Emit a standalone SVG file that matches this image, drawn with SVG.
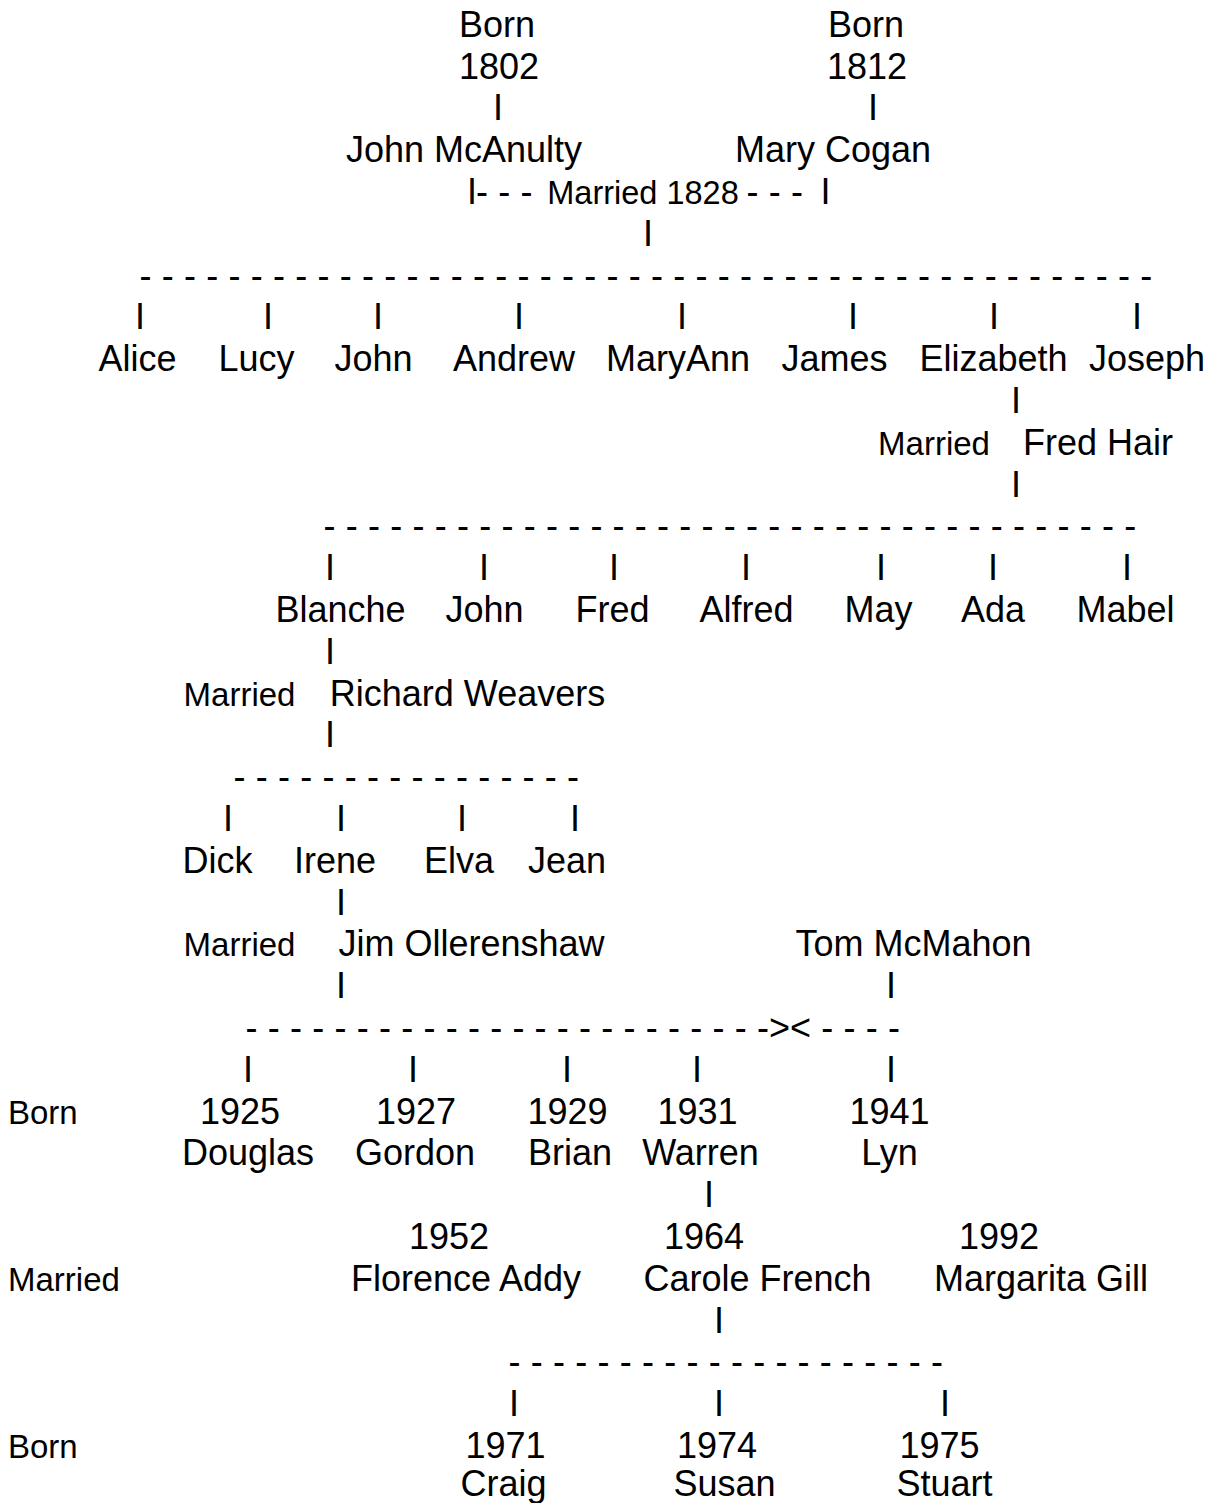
<svg xmlns="http://www.w3.org/2000/svg" width="1212" height="1503" viewBox="0 0 1212 1503">
<style>
text{font-family:"Liberation Sans",Arial,Helvetica,sans-serif;fill:#000;}
.b{font-size:36px;text-anchor:middle;}
.s{font-size:33px;}
.sm{font-size:33px;text-anchor:middle;}
.c{font-size:36px;text-anchor:middle;}
.d{font-size:36px;word-spacing:0.25px;}
</style>
<rect width="1212" height="1503" fill="#fff"/>
<g id="connectors">
<text class="c" x="498" y="120.3">I</text>
<text class="c" x="873" y="120.3">I</text>
<text class="c" x="472" y="203.9">I</text>
<text class="d" x="476" y="203.9">- - -</text>
<text class="d" x="746.5" y="203.9">- - -</text>
<text class="c" x="825.5" y="203.9">I</text>
<text class="c" x="648" y="245.7">I</text>
<text class="d" x="139.5" y="287.5">- - - - - - - - - - - - - - - - - - - - - - - - - - - - - - - - - - - - - - - - - - - - - -</text>
<text class="c" x="140" y="329.3">I</text>
<text class="c" x="268" y="329.3">I</text>
<text class="c" x="378" y="329.3">I</text>
<text class="c" x="519" y="329.3">I</text>
<text class="c" x="682" y="329.3">I</text>
<text class="c" x="853" y="329.3">I</text>
<text class="c" x="994" y="329.3">I</text>
<text class="c" x="1137" y="329.3">I</text>
<text class="c" x="1016" y="412.9">I</text>
<text class="c" x="1016" y="496.5">I</text>
<text class="d" x="323.5" y="538.3">- - - - - - - - - - - - - - - - - - - - - - - - - - - - - - - - - - - - -</text>
<text class="c" x="330" y="580.1">I</text>
<text class="c" x="484" y="580.1">I</text>
<text class="c" x="614" y="580.1">I</text>
<text class="c" x="746" y="580.1">I</text>
<text class="c" x="881" y="580.1">I</text>
<text class="c" x="993" y="580.1">I</text>
<text class="c" x="1127" y="580.1">I</text>
<text class="c" x="330" y="663.7">I</text>
<text class="c" x="330" y="747.3">I</text>
<text class="d" x="233.5" y="789.1">- - - - - - - - - - - - - - - -</text>
<text class="c" x="228" y="830.9">I</text>
<text class="c" x="341" y="830.9">I</text>
<text class="c" x="462" y="830.9">I</text>
<text class="c" x="575" y="830.9">I</text>
<text class="c" x="341" y="914.5">I</text>
<text class="c" x="341" y="998.1">I</text>
<text class="c" x="891" y="998.1">I</text>
<text class="d" x="245.5" y="1039.9">- - - - - - - - - - - - - - - - - - - - - - - -&gt;&lt; - - - -</text>
<text class="c" x="248" y="1081.7">I</text>
<text class="c" x="413" y="1081.7">I</text>
<text class="c" x="567" y="1081.7">I</text>
<text class="c" x="697" y="1081.7">I</text>
<text class="c" x="891" y="1081.7">I</text>
<text class="c" x="709" y="1207.1">I</text>
<text class="c" x="719" y="1332.5">I</text>
<text class="d" x="508.5" y="1374.3">- - - - - - - - - - - - - - - - - - - -</text>
<text class="c" x="514" y="1416.1">I</text>
<text class="c" x="719" y="1416.1">I</text>
<text class="c" x="945" y="1416.1">I</text>
</g>
<g id="john-mcanulty">
<text class="b" x="497" y="36.7">Born</text>
<text class="b" x="499" y="78.5">1802</text>
<text class="b" x="464" y="162.1">John McAnulty</text>
</g>
<g id="mary-cogan">
<text class="b" x="866" y="36.7">Born</text>
<text class="b" x="867" y="78.5">1812</text>
<text class="b" x="833" y="162.1">Mary Cogan</text>
</g>
<g id="marriage-1828"><text class="sm" x="643" y="203.9" style="font-size:32.5px">Married 1828</text></g>
<g id="alice"><text class="b" x="137.5" y="371.1">Alice</text></g>
<g id="lucy"><text class="b" x="256.5" y="371.1">Lucy</text></g>
<g id="john"><text class="b" x="373.5" y="371.1">John</text></g>
<g id="andrew"><text class="b" x="514" y="371.1">Andrew</text></g>
<g id="maryann"><text class="b" x="678" y="371.1">MaryAnn</text></g>
<g id="james"><text class="b" x="834.5" y="371.1">James</text></g>
<g id="elizabeth"><text class="b" x="993.5" y="371.1">Elizabeth</text></g>
<g id="joseph"><text class="b" x="1147" y="371.1">Joseph</text></g>
<g id="fred-hair">
<text class="sm" x="934" y="454.7">Married</text>
<text class="b" x="1098" y="454.7">Fred Hair</text>
</g>
<g id="blanche"><text class="b" x="340.5" y="621.9">Blanche</text></g>
<g id="john-hair"><text class="b" x="484.5" y="621.9">John</text></g>
<g id="fred"><text class="b" x="612.5" y="621.9">Fred</text></g>
<g id="alfred"><text class="b" x="746.5" y="621.9">Alfred</text></g>
<g id="may"><text class="b" x="878.5" y="621.9">May</text></g>
<g id="ada"><text class="b" x="993" y="621.9">Ada</text></g>
<g id="mabel"><text class="b" x="1125.5" y="621.9">Mabel</text></g>
<g id="richard-weavers">
<text class="sm" x="239.5" y="705.5">Married</text>
<text class="b" x="467.5" y="705.5">Richard Weavers</text>
</g>
<g id="dick"><text class="b" x="217.5" y="872.7">Dick</text></g>
<g id="irene"><text class="b" x="335" y="872.7">Irene</text></g>
<g id="elva"><text class="b" x="459" y="872.7">Elva</text></g>
<g id="jean"><text class="b" x="567" y="872.7">Jean</text></g>
<g id="jim-ollerenshaw">
<text class="sm" x="239.5" y="956.3">Married</text>
<text class="b" x="471.5" y="956.3">Jim Ollerenshaw</text>
</g>
<g id="tom-mcmahon"><text class="b" x="913.5" y="956.3">Tom McMahon</text></g>
<g id="row-born-1"><text class="s" x="8" y="1123.5">Born</text></g>
<g id="douglas">
<text class="b" x="240" y="1123.5">1925</text>
<text class="b" x="248" y="1165.3">Douglas</text>
</g>
<g id="gordon">
<text class="b" x="416" y="1123.5">1927</text>
<text class="b" x="415" y="1165.3">Gordon</text>
</g>
<g id="brian">
<text class="b" x="567.5" y="1123.5">1929</text>
<text class="b" x="570" y="1165.3">Brian</text>
</g>
<g id="warren">
<text class="b" x="697.5" y="1123.5">1931</text>
<text class="b" x="700.5" y="1165.3">Warren</text>
</g>
<g id="lyn">
<text class="b" x="889.5" y="1123.5">1941</text>
<text class="b" x="889.5" y="1165.3">Lyn</text>
</g>
<g id="row-married"><text class="s" x="8" y="1290.7">Married</text></g>
<g id="florence-addy">
<text class="b" x="449" y="1248.9">1952</text>
<text class="b" x="466" y="1290.7">Florence Addy</text>
</g>
<g id="carole-french">
<text class="b" x="704" y="1248.9">1964</text>
<text class="b" x="757.5" y="1290.7">Carole French</text>
</g>
<g id="margarita-gill">
<text class="b" x="999" y="1248.9">1992</text>
<text class="b" x="1041" y="1290.7">Margarita Gill</text>
</g>
<g id="row-born-2"><text class="s" x="8" y="1457.9">Born</text></g>
<g id="craig">
<text class="b" x="505.5" y="1457.9">1971</text>
<text class="b" x="503.5" y="1495.5">Craig</text>
</g>
<g id="susan">
<text class="b" x="717" y="1457.9">1974</text>
<text class="b" x="724.5" y="1495.5">Susan</text>
</g>
<g id="stuart">
<text class="b" x="939.5" y="1457.9">1975</text>
<text class="b" x="944.5" y="1495.5">Stuart</text>
</g>
</svg>
